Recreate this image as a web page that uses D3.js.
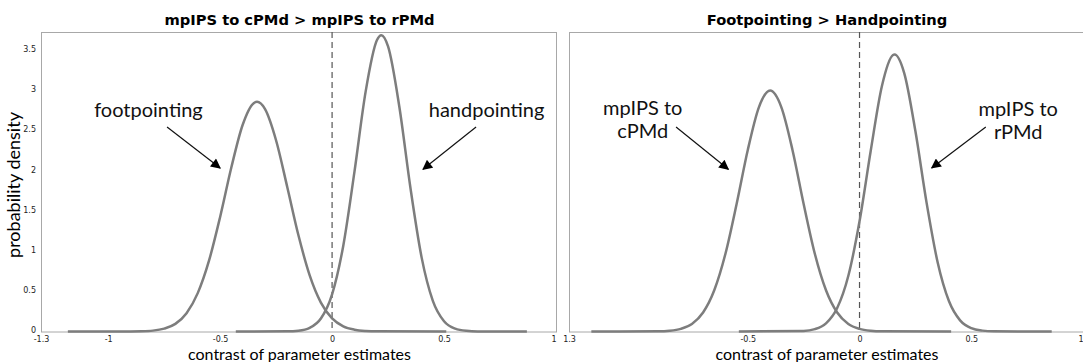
<!DOCTYPE html>
<html>
<head>
<meta charset="utf-8">
<script src="https://cdn.jsdelivr.net/npm/d3@7"></script>
<style>
  html, body { margin: 0; padding: 0; background: #fff; }
  svg { display: block; }
</style>
</head>
<body>
<svg id="chart" width="1083" height="362"></svg>
<script>
// ---------- data ----------
const panelTitles = ["mpIPS to cPMd > mpIPS to rPMd", "Footpointing > Handpointing"];
const xAxisTitle = "contrast of parameter estimates";
const yAxisTitle = "probability density";

const xDomain = [-1.3, 1];
const yDomain = [0, 3.73];

const xTicksLeft = [-1.3, -1, -0.5, 0, 0.5, 1];
const xTickLabelsLeft = ["-1.3", "-1", "-0.5", "0", "0.5", "1"];
const xTicksRight = [-1.3, -0.5, 0, 0.5, 1];
const xTickLabelsRight = ["1.3", "-0.5", "0", "0.5", "1"];
const yTicks = [0, 0.5, 1, 1.5, 2, 2.5, 3, 3.5];
const yTickLabels = ["0", "0.5", "1", "1.5", "2", "2.5", "3", "3.5"];

// left panel: footpointing
const footX = [-1.18, -0.9, -0.85, -0.8, -0.75, -0.7, -0.65, -0.6, -0.55, -0.5, -0.45, -0.4, -0.35, -0.335, -0.3, -0.25, -0.2, -0.15, -0.1, -0.05, 0, 0.05, 0.1, 0.15, 0.2, 0.51];
const footY = [0, 0.001, 0.003, 0.011, 0.036, 0.095, 0.228, 0.478, 0.879, 1.427, 2.042, 2.569, 2.844, 2.86, 2.772, 2.379, 1.797, 1.195, 0.699, 0.36, 0.163, 0.065, 0.023, 0.007, 0.002, 0];
// left panel: handpointing
const handX = [-0.43, -0.2, -0.15, -0.1, -0.05, 0, 0.05, 0.1, 0.15, 0.2, 0.22, 0.25, 0.3, 0.35, 0.4, 0.45, 0.5, 0.55, 0.6, 0.65, 0.87];
const handY = [0, 0.002, 0.01, 0.046, 0.162, 0.463, 1.069, 1.991, 2.991, 3.627, 3.69, 3.55, 2.805, 1.787, 0.92, 0.382, 0.128, 0.035, 0.008, 0.001, 0];
// right panel: mpIPS to cPMd
const cpmdX = [-1.2, -0.9, -0.85, -0.8, -0.75, -0.7, -0.65, -0.6, -0.55, -0.5, -0.45, -0.4, -0.35, -0.3, -0.25, -0.2, -0.15, -0.1, -0.05, 0, 0.05, 0.1, 0.41];
const cpmdY = [0, 0.003, 0.01, 0.033, 0.094, 0.236, 0.513, 0.968, 1.588, 2.261, 2.795, 3.0, 2.795, 2.261, 1.588, 0.968, 0.513, 0.236, 0.094, 0.033, 0.01, 0.003, 0];
// right panel: mpIPS to rPMd
const rpmdX = [-0.54, -0.25, -0.2, -0.15, -0.1, -0.05, 0, 0.05, 0.1, 0.15, 0.157, 0.2, 0.25, 0.3, 0.35, 0.4, 0.45, 0.5, 0.55, 0.6, 0.86];
const rpmdY = [0, 0.007, 0.029, 0.101, 0.292, 0.694, 1.372, 2.248, 3.055, 3.444, 3.45, 3.219, 2.496, 1.605, 0.856, 0.379, 0.139, 0.042, 0.011, 0.002, 0];

// annotation labels (text lines, anchor in data units, arrow from/to in data units)
const leftLabels = [["footpointing"], ["handpointing"]];
const leftLabelPos = [[-0.82, 2.67], [0.69, 2.67]];
const leftArrows = [[[-0.737, 2.547], [-0.5, 2.036]], [[0.643, 2.547], [0.406, 2.02]]];
const rightLabels = [["mpIPS to", "cPMd"], ["mpIPS to", "rPMd"]];
const rightLabelPos = [[-0.97, 2.70], [0.71, 2.69]];
const rightArrows = [[[-0.821, 2.547], [-0.587, 2.02]], [[0.565, 2.547], [0.323, 2.036]]];

// ---------- layout ----------
const svg = d3.select("#chart");
const labelFont = "Lato, 'Open Sans', sans-serif";
const tickFont = "'DejaVu Sans', sans-serif";

const defs = svg.append("defs");
defs.append("marker")
  .attr("id", "arrowhead")
  .attr("viewBox", "0 0 10 10")
  .attr("refX", 9).attr("refY", 5)
  .attr("markerUnits", "userSpaceOnUse")
  .attr("markerWidth", 11).attr("markerHeight", 10)
  .attr("orient", "auto")
  .append("path").attr("d", "M0,0 L10,5 L0,10 Z").attr("fill", "#000");

const panels = [
  { left: 41, right: 556, title: panelTitles[0], ticks: xTicksLeft, tickLabels: xTickLabelsLeft,
    curves: [[footX, footY], [handX, handY]], labels: leftLabels, labelPos: leftLabelPos, arrows: leftArrows, yAxis: true },
  { left: 569, right: 1083, title: panelTitles[1], ticks: xTicksRight, tickLabels: xTickLabelsRight,
    curves: [[cpmdX, cpmdY], [rpmdX, rpmdY]], labels: rightLabels, labelPos: rightLabelPos, arrows: rightArrows, yAxis: false }
];
const plotTop = 32, plotBottom = 331.5;

const y = d3.scaleLinear().domain(yDomain).range([plotBottom, plotTop]);

panels.forEach(p => {
  const x = d3.scaleLinear().domain(xDomain).range([p.left, p.right]);
  const g = svg.append("g");

  // frame
  g.append("rect")
    .attr("x", p.left + 0.5).attr("y", plotTop + 0.5)
    .attr("width", p.right - p.left).attr("height", plotBottom - plotTop)
    .attr("fill", "none").attr("stroke", "#a8a8a8").attr("stroke-width", 1);

  // x axis ticks
  const xa = d3.axisBottom(x).tickValues(p.ticks)
    .tickFormat((d, i) => p.tickLabels[i]).tickSize(0).tickPadding(5);
  const xg = g.append("g").attr("transform", `translate(0,${plotBottom})`).call(xa);
  xg.select(".domain").remove();
  xg.selectAll("text").attr("font-family", tickFont).attr("font-size", 8).attr("fill", "#222")
    .filter(d => x(d) >= p.right - 1).attr("text-anchor", "end");

  // y axis
  if (p.yAxis) {
    const ya = d3.axisLeft(y).tickValues(yTicks)
      .tickFormat((d, i) => yTickLabels[i]).tickSize(0).tickPadding(5);
    const yg = g.append("g").attr("transform", `translate(${p.left},0)`).call(ya);
    yg.select(".domain").remove();
    yg.selectAll("text").attr("font-family", tickFont).attr("font-size", 8).attr("fill", "#222")
      .attr("dy", "0.15em");
  }

  // dashed zero line
  g.append("line")
    .attr("x1", x(0)).attr("x2", x(0))
    .attr("y1", y(yDomain[1])).attr("y2", y(0))
    .attr("stroke", "#555").attr("stroke-width", 1.2)
    .attr("stroke-dasharray", "6,4");

  // curves
  const line = d3.line().x(d => x(d[0])).y(d => y(d[1])).curve(d3.curveMonotoneX);
  p.curves.forEach(([xs, ys]) => {
    g.append("path")
      .datum(xs.map((v, i) => [v, ys[i]]))
      .attr("d", line)
      .attr("fill", "none").attr("stroke", "#7d7d7d").attr("stroke-width", 2.5);
  });

  // title
  g.append("text")
    .attr("x", (p.left + p.right) / 2 + 1).attr("y", 25)
    .attr("text-anchor", "middle")
    .attr("font-family", tickFont).attr("font-weight", "bold").attr("font-size", 14.7)
    .attr("fill", "#000").text(p.title);

  // x axis title
  g.append("text")
    .attr("x", (p.left + p.right) / 2 + 1).attr("y", 360)
    .attr("text-anchor", "middle")
    .attr("font-family", labelFont).attr("font-size", 16)
    .attr("fill", "#000").text(xAxisTitle);

  // annotations
  p.labels.forEach((lines, i) => {
    const [lx, ly] = p.labelPos[i];
    const t = g.append("text")
      .attr("x", x(lx)).attr("y", y(ly))
      .attr("text-anchor", "middle")
      .attr("font-family", labelFont).attr("font-size", 20).attr("fill", "#111");
    lines.forEach((s, k) => {
      t.append("tspan").attr("x", x(lx)).attr("dy", k === 0 ? 0 : 23).text(s);
    });
    const [[ax1, ay1], [ax2, ay2]] = p.arrows[i];
    g.append("line")
      .attr("x1", x(ax1)).attr("y1", y(ay1))
      .attr("x2", x(ax2)).attr("y2", y(ay2))
      .attr("stroke", "#111").attr("stroke-width", 1.2)
      .attr("marker-end", "url(#arrowhead)");
  });
});

// y axis title
svg.append("text")
  .attr("transform", `translate(20,185) rotate(-90)`)
  .attr("text-anchor", "middle")
  .attr("font-family", labelFont).attr("font-size", 18)
  .attr("fill", "#000").text(yAxisTitle);
</script>
</body>
</html>
